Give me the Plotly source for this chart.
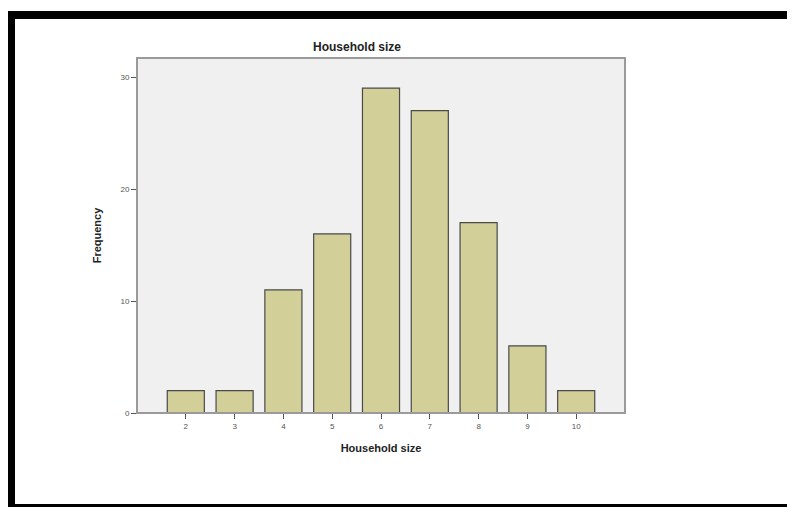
import plotly.graph_objects as go

categories = ["2", "3", "4", "5", "6", "7", "8", "9", "10"]
frequency = [2, 2, 11, 16, 29, 27, 17, 6, 2]
y_ticks = [0, 10, 20, 30]

OFF = 8  # page body margin offset
W, H = 795 - OFF, 507 - OFF
L, R, T, B = 137 - OFF, 625 - OFF, 58 - OFF, 413 - OFF

fig = go.Figure(go.Bar(
    x=categories, y=frequency,
    marker=dict(color="#D3CF98", line=dict(color="#4a4a4a", width=1.2)),
))

def px(x):
    return (x - OFF - L) / (R - L)

def py(y):
    return (B - (y - OFF)) / (B - T)

shapes = [
    # black frame
    dict(type="line", xref="paper", yref="paper", x0=px(7), x1=px(800), y0=py(15), y1=py(15),
         line=dict(color="black", width=8)),
    dict(type="line", xref="paper", yref="paper", x0=px(11), x1=px(11), y0=py(11), y1=py(507),
         line=dict(color="black", width=8)),
    dict(type="line", xref="paper", yref="paper", x0=px(7), x1=px(800), y0=py(505.5), y1=py(505.5),
         line=dict(color="black", width=3)),
    # plot border
    dict(type="rect", xref="paper", yref="paper", x0=0, x1=1, y0=0, y1=1,
         line=dict(color="#9a9a9a", width=2), layer="above"),
]

fig.update_layout(
    width=W, height=H,
    margin=dict(l=L, r=W - R, t=T, b=H - B),
    paper_bgcolor="white", plot_bgcolor="#F0F0F0",
    bargap=0.24,
    showlegend=False,
    font=dict(family="Liberation Sans, Arial, sans-serif", color="#222"),
    title=dict(text="<b>Household size</b>", x=px(357), xref="paper", xanchor="center",
               y=1 - (47 - OFF) / H, yanchor="middle", font=dict(size=12, color="#222")),
    shapes=shapes,
    xaxis=dict(
        title=dict(text="<b>Household size</b>", font=dict(size=11, color="#222"), standoff=14),
        type="category", range=[-1, 9],
        showgrid=False, zeroline=False, showline=False,
        ticks="outside", ticklen=5, tickcolor="#555", tickwidth=1,
        tickfont=dict(size=8, color="#555"),
    ),
    yaxis=dict(
        title=dict(text="<b>Frequency</b>", font=dict(size=11, color="#222"), standoff=16),
        range=[0, (B - T) / 11.2], tickvals=y_ticks,
        showgrid=False, zeroline=False, showline=False,
        ticks="outside", ticklen=5, tickcolor="#555", tickwidth=1,
        tickfont=dict(size=8, color="#555"),
    ),
)

fig.write_html("out.html")
